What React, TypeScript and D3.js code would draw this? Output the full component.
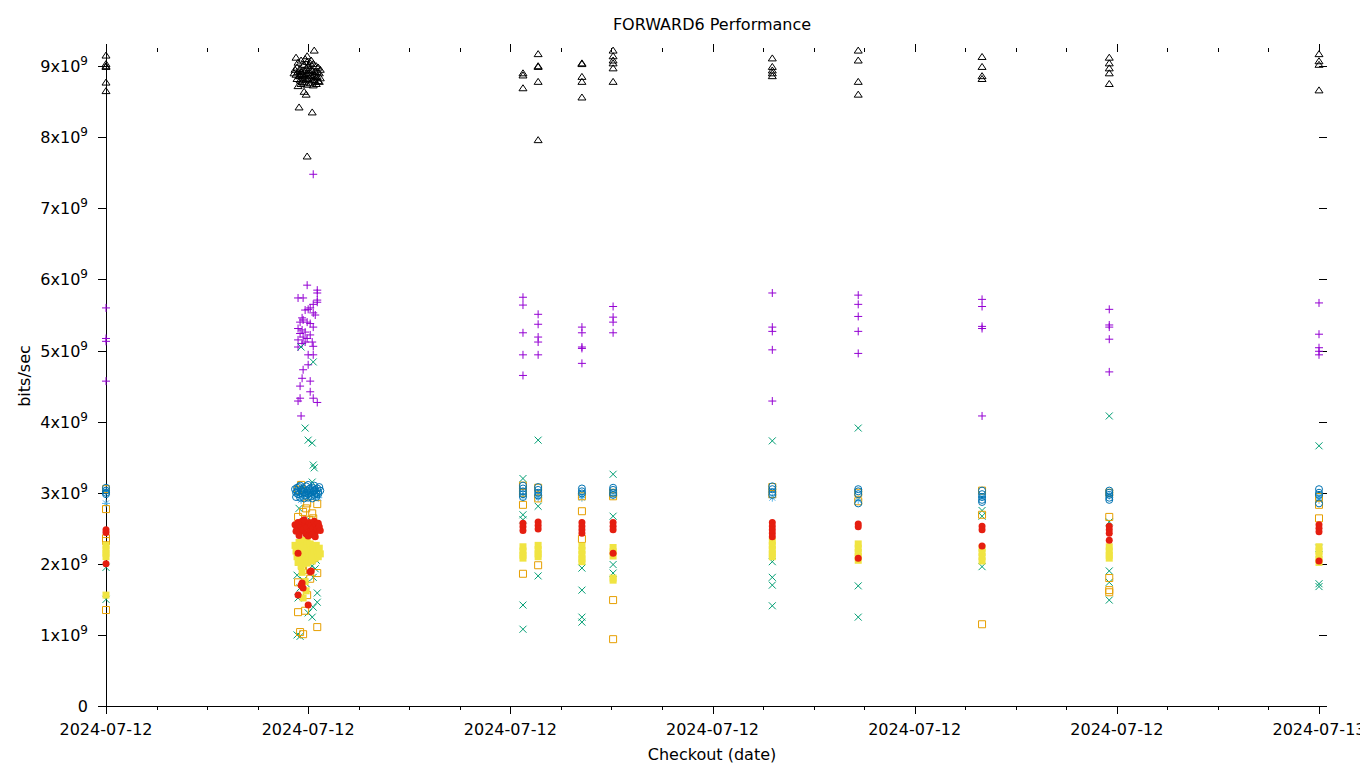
import { useEffect, useRef } from 'react';
import * as d3 from 'd3';

// checkout times of the single runs (local time)
const runTimes = [
  '2024-07-12T00:00', '2024-07-12T08:15', '2024-07-12T08:33', '2024-07-12T09:25', '2024-07-12T10:02',
  '2024-07-12T13:11', '2024-07-12T14:53', '2024-07-12T17:20', '2024-07-12T19:51', '2024-07-13T00:00',
];
const burstStart = '2024-07-12T00:00';
const yTicks = [0, 1, 2, 3, 4, 5, 6, 7, 8, 9];

// values in units of 1e9 bits/sec, one list per run
const plusRuns = [
  [5.6, 5.17, 5.13, 4.57], [5.75, 5.64, 5.25, 4.94, 4.65], [5.51, 5.37, 5.19, 5.12, 4.94],
  [5.33, 5.25, 5.05, 5.03, 4.82], [5.62, 5.47, 5.40, 5.25], [5.81, 5.33, 5.27, 5.01, 4.29],
  [5.78, 5.65, 5.48, 5.27, 4.96], [5.72, 5.62, 5.34, 5.31, 4.08], [5.58, 5.36, 5.33, 5.16, 4.70],
  [5.67, 5.23, 5.04, 4.99, 4.94],
];
const crossRuns = [
  [1.95, 1.5], [3.20, 2.69, 2.62, 1.42, 1.08], [3.74, 2.81, 1.83], [1.94, 1.63, 1.25, 1.18],
  [3.26, 2.67, 1.99, 1.87], [3.73, 2.03, 1.81, 1.70, 1.41], [3.91, 1.69, 1.25], [2.75, 2.67, 1.96],
  [4.08, 2.59, 1.90, 1.74, 1.49], [3.66, 2.22, 1.72, 1.68],
];
const starRuns = [[3.03, 2.85], [2.95], [2.97, 2.93], [2.97, 2.93], [2.96], [2.93], [2.9], [2.94], [2.96], [2.95, 2.9]];
const squareRuns = [
  [3.05, 2.77, 2.36, 2.32, 1.35], [3.1, 3.0, 2.83, 1.86], [3.07, 2.92, 1.98], [2.95, 2.74, 2.35],
  [3.0, 2.95, 1.49, 0.94], [3.08, 2.98], [3.0, 2.88], [3.03, 2.69, 1.15], [3.0, 2.66, 1.80, 1.63, 1.60],
  [2.94, 2.83, 2.64],
];
const boxRuns = [
  [2.26, 2.2, 2.15, 2.1, 1.56], [2.24, 2.18, 2.12, 2.08], [2.26, 2.2, 2.14, 2.1], [2.25, 2.19, 2.13, 2.07, 2.03],
  [2.23, 2.17, 2.11, 1.8, 1.77], [2.32, 2.26, 2.2, 2.14, 2.1], [2.28, 2.22, 2.16, 2.1, 2.05],
  [2.22, 2.16, 2.1, 2.04], [2.24, 2.18, 2.12, 2.08], [2.24, 2.18, 2.12, 2.06, 2.02],
];
const ringRuns = [
  [3.07, 3.03, 3.0, 2.98], [3.1, 3.06, 3.02, 2.98, 2.94], [3.08, 3.04, 3.0, 2.96], [3.06, 3.02, 2.99],
  [3.07, 3.04, 3.0, 2.97], [3.09, 3.05, 3.01, 2.97], [3.05, 3.02, 2.98, 2.85], [3.03, 2.98, 2.94, 2.9, 2.87],
  [3.03, 3.0, 2.97, 2.93, 2.9], [3.05, 3.0, 2.97, 2.85],
];
const dotRuns = [
  [2.48, 2.44, 2.0], [2.57, 2.52, 2.47], [2.59, 2.54, 2.49], [2.58, 2.53, 2.48, 2.43], [2.58, 2.53, 2.48, 2.15],
  [2.58, 2.53, 2.48, 2.43, 2.38], [2.56, 2.52, 2.08], [2.53, 2.48, 2.25], [2.53, 2.48, 2.43, 2.33],
  [2.55, 2.5, 2.45, 2.04],
];
const triRuns = [
  [9.15, 9.03, 9.0, 8.99, 8.77, 8.65], [8.9, 8.87, 8.69], [9.17, 9.0, 8.99, 8.78, 7.96], [9.04, 9.03, 8.85, 8.78, 8.56],
  [9.22, 9.14, 9.08, 9.04, 8.97, 8.78], [9.11, 8.99, 8.94, 8.9, 8.86], [9.22, 9.08, 8.78, 8.6],
  [9.13, 8.99, 8.86, 8.82], [9.12, 9.04, 8.97, 8.9, 8.75], [9.17, 9.07, 9.02, 8.66],
];

// the burst of checkouts around 04:00: [hours after burstStart, value]
const plusBurst = [
  [3.98, 5.92], [4.18, 5.85], [4.18, 5.81], [3.80, 5.74], [3.90, 5.74], [4.18, 5.71], [4.18, 5.68], [4.10, 5.65],
  [3.94, 5.57], [4.00, 5.58], [4.04, 5.60], [4.10, 5.53], [4.14, 5.50], [3.88, 5.46], [3.90, 5.43], [3.84, 5.40],
  [3.98, 5.40], [4.04, 5.38], [4.10, 5.33], [3.80, 5.31], [3.88, 5.29], [3.94, 5.26], [3.84, 5.24], [4.04, 5.22],
  [3.90, 5.19], [3.80, 5.15], [3.98, 5.17], [4.08, 5.12], [3.88, 5.10], [3.94, 5.12], [4.10, 5.06], [3.80, 5.05],
  [4.00, 4.94], [4.10, 4.94], [4.00, 4.80], [3.90, 4.73], [3.88, 4.61], [4.04, 4.57], [3.84, 4.50], [4.04, 4.42],
  [4.10, 4.33], [3.84, 4.33], [4.18, 4.27], [3.80, 4.29], [3.86, 4.08], [4.10, 7.48],
];
const crossBurst = [
  [3.86, 5.05], [4.10, 4.84], [3.94, 3.91], [4.00, 3.74], [4.08, 3.70], [4.10, 3.39], [4.12, 3.35], [4.08, 3.15],
  [3.82, 2.78], [4.06, 2.60], [3.86, 2.45], [4.16, 2.05], [4.08, 1.97], [3.78, 1.84], [4.10, 1.81], [3.84, 1.66],
  [4.18, 1.59], [3.80, 1.52], [4.10, 1.39], [4.08, 1.25], [3.78, 1.00], [3.84, 0.98], [4.00, 1.31], [4.18, 1.46],
  [3.90, 1.77], [4.14, 1.93], [3.82, 2.02], [3.96, 1.72],
];
const starBurst = [[3.80, 2.98], [3.90, 3.02], [4.00, 2.95], [4.10, 3.0], [4.20, 2.93], [3.86, 2.9]];
const squareBurst = [
  [3.86, 3.11], [3.80, 3.04], [4.18, 2.84], [3.90, 2.73], [4.08, 2.71], [3.80, 2.66], [4.10, 2.64], [3.98, 2.85],
  [3.96, 2.78], [4.02, 2.62], [3.90, 1.91], [4.18, 1.87], [3.80, 1.74], [4.04, 1.79], [3.98, 1.56], [3.80, 1.32],
  [3.94, 1.34], [4.18, 1.11], [3.84, 1.04], [3.90, 1.01], [3.88, 1.97], [4.10, 2.08],
];
const boxBurst = [
  [3.74, 2.26], [3.76, 2.18], [3.78, 2.1], [3.82, 2.3], [3.84, 2.22], [3.86, 2.14], [3.88, 2.06], [3.90, 2.33],
  [3.92, 2.25], [3.94, 2.17], [3.96, 2.09], [3.98, 2.3], [4.00, 2.22], [4.02, 2.14], [4.04, 2.28], [4.06, 2.2],
  [4.08, 2.12], [4.10, 2.24], [4.12, 2.16], [4.14, 2.08], [4.16, 2.26], [4.18, 2.18], [4.20, 2.1], [4.22, 2.22],
  [4.24, 2.14], [3.80, 2.02], [3.90, 2.0], [3.98, 2.01], [4.08, 2.04], [3.86, 1.97], [3.94, 1.75], [3.96, 1.62],
  [3.90, 1.52], [3.88, 1.88],
];
const ringBurst = [
  [3.74, 3.05], [3.78, 3.02], [3.80, 2.98], [3.82, 3.08], [3.86, 3.04], [3.88, 2.99], [3.90, 3.06], [3.92, 3.01],
  [3.94, 2.96], [3.96, 3.09], [3.98, 3.03], [4.00, 2.98], [4.02, 3.05], [4.04, 3.0], [4.06, 2.95], [4.08, 3.07],
  [4.10, 3.02], [4.12, 2.97], [4.14, 3.04], [4.16, 2.99], [4.18, 3.06], [4.20, 3.01], [4.22, 3.08], [4.24, 3.03],
  [3.76, 2.94], [3.84, 2.93], [3.92, 2.92], [4.00, 2.93], [4.08, 2.92], [4.16, 2.94], [3.84, 3.1], [4.00, 3.11],
  [4.12, 3.1], [3.76, 3.0], [3.78, 3.07], [3.88, 3.03], [3.96, 3.0], [4.04, 3.06], [4.12, 3.03], [4.20, 2.98],
];
const dotBurst = [
  [3.74, 2.55], [3.78, 2.5], [3.80, 2.58], [3.84, 2.45], [3.86, 2.53], [3.88, 2.6], [3.90, 2.48], [3.94, 2.56],
  [3.96, 2.42], [3.98, 2.51], [4.02, 2.58], [4.04, 2.46], [4.06, 2.54], [4.10, 2.5], [4.12, 2.6], [4.14, 2.44],
  [4.16, 2.55], [4.18, 2.49], [4.20, 2.57], [4.22, 2.52], [4.24, 2.47], [3.82, 2.4], [3.92, 2.62], [4.00, 2.39],
  [4.08, 2.41], [3.76, 2.46], [4.14, 2.38], [3.80, 2.15], [4.04, 1.89], [3.88, 1.73], [3.90, 1.66], [3.80, 1.56],
  [4.00, 1.42], [3.86, 1.70], [4.06, 1.9],
];
const triBurst = [
  [3.76, 9.12], [4.12, 9.22], [3.80, 9.05], [3.86, 9.08], [3.92, 9.02], [3.98, 9.06], [4.04, 9.04], [4.10, 9.03],
  [4.16, 9.0], [4.20, 8.98], [3.74, 8.95], [3.80, 8.92], [3.84, 8.96], [3.90, 8.94], [3.96, 8.97], [4.02, 8.95],
  [4.08, 8.93], [4.14, 8.92], [4.22, 8.9], [3.76, 8.88], [3.82, 8.86], [3.88, 8.89], [3.94, 8.87], [4.00, 8.9],
  [4.06, 8.86], [4.12, 8.88], [4.18, 8.85], [4.24, 8.83], [3.78, 8.82], [3.84, 8.8], [3.90, 8.83], [3.96, 8.81],
  [4.02, 8.84], [4.08, 8.8], [4.14, 8.78], [4.20, 8.79], [3.86, 8.75], [3.92, 8.77], [3.98, 8.74], [4.04, 8.76],
  [4.10, 8.73], [4.16, 8.75], [3.92, 8.64], [3.96, 8.6], [3.82, 8.42], [4.08, 8.35], [3.98, 7.73], [3.94, 9.1],
  [4.06, 9.08], [3.98, 9.14], [3.72, 8.9], [3.78, 8.98], [3.84, 8.86], [3.88, 8.78], [3.94, 8.93], [4.00, 8.82],
  [4.06, 8.95], [4.12, 8.81], [4.18, 8.92], [4.24, 8.95], [3.80, 8.72], [4.00, 9.0], [4.10, 8.86], [3.86, 8.92],
  [4.16, 8.84], [4.22, 8.78], [3.90, 8.88], [4.04, 8.9],
];

const series = [
  { runs: plusRuns, burst: plusBurst, color: '#9400d3', shape: 'plus' },
  { runs: crossRuns, burst: crossBurst, color: '#009e73', shape: 'cross' },
  { runs: starRuns, burst: starBurst, color: '#56b4e9', shape: 'star' },
  { runs: squareRuns, burst: squareBurst, color: '#e69f00', shape: 'square' },
  { runs: boxRuns, burst: boxBurst, color: '#f0e442', shape: 'box' },
  { runs: ringRuns, burst: ringBurst, color: '#0072b2', shape: 'ring' },
  { runs: dotRuns, burst: dotBurst, color: '#e51e10', shape: 'dot' },
  { runs: triRuns, burst: triBurst, color: '#000000', shape: 'tri' },
];

export default function App() {
  const svgRef = useRef<SVGSVGElement>(null);

  useEffect(() => {
    document.body.style.margin = '0';
    const width = 1360;
    const height = 768;
    const left = 106, right = 1319, top = 52, bottom = 706;
    const font = 'DejaVu Sans, sans-serif';

    const svg = d3.select(svgRef.current);
    svg.selectAll('*').remove();
    svg.attr('width', width).attr('height', height);

    const x = d3.scaleTime()
      .domain([new Date('2024-07-12T00:00'), new Date('2024-07-13T00:00')])
      .range([left, right]);
    const y = d3.scaleLinear().domain([0, 9.2]).range([bottom, top]);

    const t0 = new Date(burstStart).getTime();

    const axes = svg.append('g').attr('stroke', '#000').attr('shape-rendering', 'crispEdges');
    axes.append('line').attr('x1', left).attr('x2', left).attr('y1', top).attr('y2', bottom);
    axes.append('line').attr('x1', left).attr('x2', right).attr('y1', bottom).attr('y2', bottom);

    // x ticks, bottom and mirrored on top
    const minor = x.ticks(d3.timeHour.every(1));
    minor.forEach(d => {
      const major = d.getHours() % 4 === 0;
      const len = major ? 8 : 4;
      const px = Math.round(x(d));
      axes.append('line').attr('x1', px).attr('x2', px).attr('y1', bottom).attr('y2', bottom + len);
      axes.append('line').attr('x1', px).attr('x2', px).attr('y1', top).attr('y2', top - len);
    });
    const fmt = d3.timeFormat('%Y-%m-%d');
    svg.append('g').selectAll('text')
      .data(x.ticks(d3.timeHour.every(4)))
      .enter()
      .append('text')
      .attr('x', d => x(d))
      .attr('y', 735)
      .attr('text-anchor', 'middle')
      .attr('font-family', font)
      .attr('font-size', 16)
      .text(d => fmt(d));

    // y ticks, left and mirrored on right
    yTicks.forEach(v => {
      const py = Math.round(y(v));
      axes.append('line').attr('x1', left - 8).attr('x2', left).attr('y1', py).attr('y2', py);
      axes.append('line').attr('x1', right).attr('x2', right + 8).attr('y1', py).attr('y2', py);
      const t = svg.append('text')
        .attr('x', 88)
        .attr('y', y(v) + 6)
        .attr('text-anchor', 'end')
        .attr('font-family', font)
        .attr('font-size', 16);
      if (v === 0) {
        t.text('0');
      } else {
        t.append('tspan').text(`${v}x10`);
        t.append('tspan').attr('dy', -7).attr('font-size', 12).text('9');
      }
    });

    svg.append('text')
      .attr('x', 712).attr('y', 30)
      .attr('text-anchor', 'middle')
      .attr('font-family', font).attr('font-size', 16)
      .text('FORWARD6 Performance');
    svg.append('text')
      .attr('x', 712).attr('y', 760)
      .attr('text-anchor', 'middle')
      .attr('font-family', font).attr('font-size', 16)
      .text('Checkout (date)');
    svg.append('text')
      .attr('transform', 'translate(30,376) rotate(-90)')
      .attr('text-anchor', 'middle')
      .attr('font-family', font).attr('font-size', 16)
      .text('bits/sec');

    const marker = (shape: string, cx: number, cy: number) => {
      switch (shape) {
        case 'plus': return `M${cx - 4},${cy}h8M${cx},${cy - 4}v8`;
        case 'cross': return `M${cx - 3.5},${cy - 3.5}l7,7M${cx - 3.5},${cy + 3.5}l7,-7`;
        case 'star': return `M${cx - 4},${cy}h8M${cx},${cy - 4}v8M${cx - 3},${cy - 3}l6,6M${cx - 3},${cy + 3}l6,-6`;
        case 'square':
        case 'box': return `M${cx - 3.5},${cy - 3.5}h7v7h-7Z`;
        case 'ring':
        case 'dot': return `M${cx + 3.5},${cy}A3.5,3.5 0 1 1 ${cx - 3.5},${cy}A3.5,3.5 0 1 1 ${cx + 3.5},${cy}Z`;
        default: return `M${cx},${cy - 3.5}L${cx + 4},${cy + 2.5}L${cx - 4},${cy + 2.5}Z`;
      }
    };

    const plot = svg.append('g');
    series.forEach(s => {
      const pts: [Date, number][] = [];
      s.runs.forEach((vals, i) => vals.forEach(v => pts.push([new Date(runTimes[i]), v])));
      s.burst.forEach(([h, v]) => pts.push([new Date(t0 + h * 3600e3), v]));
      const filled = s.shape === 'box' || s.shape === 'dot';
      plot.append('g')
        .selectAll('path')
        .data(pts)
        .enter()
        .append('path')
        .attr('d', d => marker(s.shape, x(d[0]), y(d[1])))
        .attr('fill', filled ? s.color : 'none')
        .attr('stroke', filled ? 'none' : s.color)
        .attr('stroke-width', 1);
    });
  }, []);

  return (
    <div>
      <svg ref={svgRef} style={{ display: 'block', background: '#fff' }}></svg>
    </div>
  );
}
